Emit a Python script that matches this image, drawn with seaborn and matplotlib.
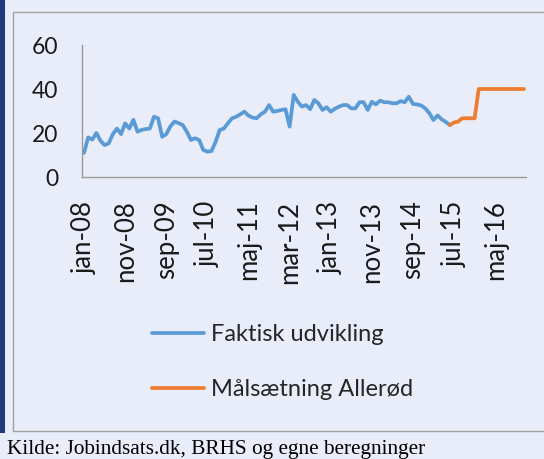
import matplotlib
matplotlib.use("Agg")
import matplotlib.pyplot as plt
import matplotlib.patches as mpatches
import seaborn as sns
import pandas as pd

# month labels (danish), jan-08 .. dec-16
month_names = ["jan", "feb", "mar", "apr", "maj", "jun", "jul", "aug", "sep", "okt", "nov", "dec"]
years = ["08", "09", "10", "11", "12", "13", "14", "15", "16"]
months = [m + "-" + y for y in years for m in month_names]

# Faktisk udvikling, jan-08 .. jun-15
faktisk = [11, 18, 17, 20, 16.5, 14.5, 15.3, 19.5, 22, 19.5,
           24.4, 22, 26, 20.6, 21.4, 21.8, 22, 27.4, 26.7, 18.3,
           19.5, 23, 25.2, 24.5, 23.6, 20.6, 16.8, 17.6, 16.8, 12.3,
           11.5, 11.8, 16, 21.4, 22, 24.5, 26.7, 27.4, 28.5, 29.7,
           27.9, 27, 26.7, 28.5, 29.7, 32.7, 29.7, 30, 30.5, 30.8,
           22.9, 37.3, 34.2, 32, 32.7, 30.8, 35, 33.5, 30.5, 31.7,
           29.7, 31, 32, 32.7, 32.7, 31.2, 31.2, 34, 34, 30.5,
           34.2, 33, 34.7, 34, 34, 33.5, 33.5, 34.5, 34, 36.5,
           33.2, 33, 32.5, 31.2, 29, 25.9, 28, 26.2, 25, 23.6]

# Målsætning Allerød, jun-15 .. dec-16
maal = [23.6, 24.8, 25.2, 26.7, 26.7, 26.7, 26.7,
        40, 40, 40, 40, 40, 40, 40, 40, 40, 40, 40, 40]

start_maal = len(faktisk) - 1

df = pd.concat([
    pd.DataFrame({"idx": range(len(faktisk)), "value": faktisk, "serie": "Faktisk udvikling"}),
    pd.DataFrame({"idx": range(start_maal, start_maal + len(maal)), "value": maal, "serie": "Målsætning Allerød"}),
])

bg = "#E9ECF9"
sns.set_theme(style="white")
plt.rcParams["font.family"] = ["Lato", "DejaVu Sans"]

fig = plt.figure(figsize=(5.44, 4.59), dpi=100, facecolor=bg)
ax = fig.add_axes([82 / 544, 1 - 177 / 459, (526 - 82) / 544, (177 - 45) / 459])
ax.set_facecolor(bg)

sns.lineplot(data=df, x="idx", y="value", hue="serie",
             palette={"Faktisk udvikling": "#5B9BD5", "Målsætning Allerød": "#ED7D31"},
             linewidth=2.7, ax=ax, legend=False)

ax.set_xlim(-0.5, len(months) - 0.5)
ax.set_ylim(0, 60)
ax.set_yticks([0, 20, 40, 60])
ax.set_xticks(range(0, len(months), 10))
ax.set_xticklabels(months[::10], rotation=90)
ax.tick_params(axis="y", length=0, pad=17, labelsize=16.5, colors="#1a1a1a")
ax.tick_params(axis="x", length=0, pad=17, labelsize=18.5, colors="#1a1a1a")
ax.set_xlabel("")
ax.set_ylabel("")
for s in ["top", "right"]:
    ax.spines[s].set_visible(False)
for s in ["left", "bottom"]:
    ax.spines[s].set_color("#9A9A9A")
    ax.spines[s].set_linewidth(1.0)

# legend
handles = [plt.Line2D([], [], color="#5B9BD5", lw=2.7),
           plt.Line2D([], [], color="#ED7D31", lw=2.7)]
fig.legend(handles, ["Faktisk udvikling", "Målsætning Allerød"],
           loc="upper left", bbox_to_anchor=(152 / 544, 1 - 324 / 459),
           frameon=False, fontsize=17, handlelength=2.2, handletextpad=0.3,
           labelspacing=1.45, borderpad=0, borderaxespad=0)

# chart frame and left border
fig.patches.append(mpatches.Rectangle((13 / 544, 1 - 431 / 459), 1.0, (431 - 12) / 459,
                                      transform=fig.transFigure, fill=False,
                                      edgecolor="#A0A0A0", linewidth=1.0))
fig.patches.append(mpatches.Rectangle((0, 1 - 433 / 459), 5 / 544, 433 / 459,
                                      transform=fig.transFigure, facecolor="#1F3A7A",
                                      edgecolor="none"))

fig.text(7 / 544, 1 - 454 / 459, "Kilde: Jobindsats.dk, BRHS og egne beregninger",
         family="Liberation Serif", fontsize=15.3, color="black", va="baseline")

fig.savefig("out.png", dpi=100, facecolor=bg)
